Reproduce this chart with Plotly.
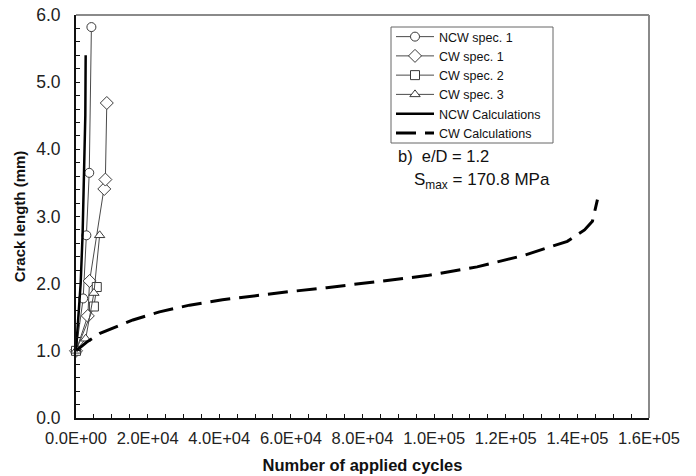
import plotly.graph_objects as go

# ---- data ----
ncw1_x = [0, 2000, 2900, 3700, 4300]
ncw1_y = [1.0, 1.78, 2.72, 3.65, 5.82]
cw1_x = [0, 3300, 3800, 7900, 8200, 8600]
cw1_y = [1.0, 1.52, 2.04, 3.41, 3.55, 4.69]
cw2_x = [0, 5000, 5800]
cw2_y = [1.0, 1.66, 1.95]
cw3_x = [0, 2700, 5000, 6600]
cw3_y = [1.0, 1.18, 1.86, 2.72]
ncwc_x = [0, 700, 1300, 1850, 2250, 2500, 2600, 2700]
ncwc_y = [1.0, 1.5, 2.0, 2.75, 3.5, 4.2, 4.5, 5.4]
cwc_x = [0, 3000, 6700, 15900, 23300, 31700, 40900, 50000, 59400, 70000, 84400,
         98000, 112000, 125000, 137200, 142000, 144200, 145000, 145600]
cwc_y = [1.0, 1.13, 1.26, 1.46, 1.58, 1.68, 1.76, 1.82, 1.88, 1.94, 2.03,
         2.12, 2.25, 2.42, 2.63, 2.80, 2.93, 3.10, 3.25]
x_tickvals = [0, 20000, 40000, 60000, 80000, 100000, 120000, 140000, 160000]
x_ticktext = ["0.0E+00", "2.0E+04", "4.0E+04", "6.0E+04", "8.0E+04",
              "1.0E+05", "1.2E+05", "1.4E+05", "1.6E+05"]
y_tickvals = [0, 1, 2, 3, 4, 5, 6]

FONT = "Liberation Sans, Arial, sans-serif"
W, H = 696, 476
L, R, T, B = 76, 47, 15, 58
PH = H - T - B


def py(pix):
    """pixel row -> paper y"""
    return (H - B - pix) / PH


def px(pix):
    return (pix - L) / (W - L - R)


exp_line = dict(color="#4a4a4a", width=1)
mk = lambda s: dict(symbol=s, size=9, color="white",
                    line=dict(color="#3a3a3a", width=1))

fig = go.Figure()
fig.add_trace(go.Scatter(x=ncw1_x, y=ncw1_y, name="NCW spec. 1", mode="lines+markers",
                         line=exp_line, marker=mk("circle"), cliponaxis=False))
fig.add_trace(go.Scatter(x=cw1_x, y=cw1_y, name="CW spec. 1", mode="lines+markers",
                         line=exp_line, marker=dict(mk("diamond"), size=10), cliponaxis=False))
fig.add_trace(go.Scatter(x=cw2_x, y=cw2_y, name="CW spec. 2", mode="lines+markers",
                         line=exp_line, marker=mk("square"), cliponaxis=False))
fig.add_trace(go.Scatter(x=cw3_x, y=cw3_y, name="CW spec. 3", mode="lines+markers",
                         line=exp_line, marker=mk("triangle-up"), cliponaxis=False))
fig.add_trace(go.Scatter(x=ncwc_x, y=ncwc_y, name="NCW Calculations", mode="lines",
                         line=dict(color="black", width=2.5), cliponaxis=False))
fig.add_trace(go.Scatter(x=cwc_x, y=cwc_y, name="CW Calculations", mode="lines",
                         line=dict(color="black", width=3, dash="20px,9px"),
                         cliponaxis=False))

fig.add_annotation(x=89400, y=3.9, xref="x", yref="y", text="b)  e/D = 1.2",
                   showarrow=False, xanchor="left", yanchor="middle",
                   font=dict(family=FONT, size=16.5, color="#111"))
fig.add_annotation(x=93900, y=3.53, xref="x", yref="y",
                   text="S<sub>max</sub> = 170.8 MPa",
                   showarrow=False, xanchor="left", yanchor="middle",
                   font=dict(family=FONT, size=17, color="#111"))

# gray top/right frame
fig.add_shape(type="line", xref="paper", yref="paper", x0=0, x1=1, y0=1, y1=1,
              line=dict(color="#8a8a8a", width=2))
fig.add_shape(type="line", xref="paper", yref="paper", x0=1, x1=1, y0=0, y1=1,
              line=dict(color="#8a8a8a", width=2))
# legend frame
fig.add_shape(type="rect", xref="paper", yref="paper", layer="above",
              x0=px(391), x1=px(553), y0=py(143), y1=py(27),
              line=dict(color="#666", width=1), fillcolor="white")

fig.update_layout(
    width=W, height=H,
    margin=dict(l=L, r=R, t=T, b=B),
    plot_bgcolor="white", paper_bgcolor="white",
    font=dict(family=FONT, color="#222"),
    showlegend=True,
    legend=dict(x=px(391), y=py(22), xanchor="left", yanchor="top",
                bgcolor="rgba(0,0,0,0)", borderwidth=0,
                font=dict(family=FONT, size=12.5, color="#111"),
                tracegroupgap=0, itemwidth=38),
)
fig.update_xaxes(
    range=[0, 160000], tickvals=x_tickvals, ticktext=x_ticktext, automargin=False,
    showgrid=False, zeroline=False, showline=True, linecolor="#111", linewidth=2,
    ticks="inside", ticklen=4, tickcolor="#111", tickwidth=1,
    minor=dict(ticks="inside", dtick=5000, ticklen=4, tickcolor="#111", tickwidth=1),
    tickfont=dict(family=FONT, size=16.5, color="#222"),
    ticklabelstandoff=4,
    title=dict(text="<b>Number of applied cycles</b>", font=dict(family=FONT, size=16.5, color="#111"),
               standoff=14),
)
fig.update_yaxes(
    range=[0, 6], tickvals=y_tickvals, tickformat=".1f", automargin=False,
    showgrid=False, zeroline=False, showline=True, linecolor="#111", linewidth=2,
    ticks="inside", ticklen=4, tickcolor="#111", tickwidth=1,
    minor=dict(ticks="inside", dtick=0.2, ticklen=4, tickcolor="#111", tickwidth=1),
    tickfont=dict(family=FONT, size=17.5, color="#222"),
    ticklabelstandoff=10,
    title=dict(text="<b>Crack length (mm)</b>", font=dict(family=FONT, size=15, color="#111"),
               standoff=7),
)

fig.write_html("out.html")
